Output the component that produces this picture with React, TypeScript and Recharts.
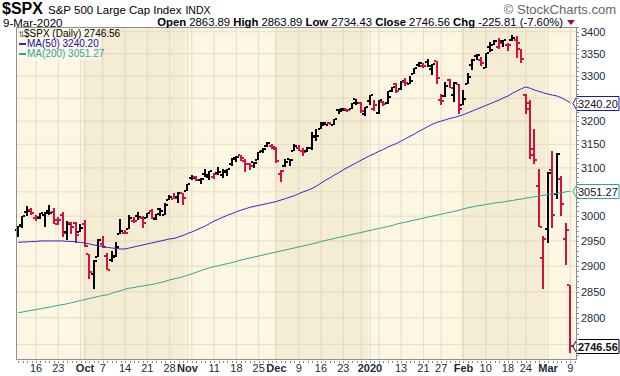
import React from "react";
import {
  ComposedChart,
  Bar,
  Line,
  XAxis,
  YAxis,
  CartesianGrid,
  ReferenceArea,
  ReferenceDot,
} from "recharts";

const FONT = "Arial, 'Liberation Sans', sans-serif";

const dates = [
  "2019-09-10", "2019-09-11", "2019-09-12", "2019-09-13", "2019-09-16", "2019-09-17", "2019-09-18", "2019-09-19", "2019-09-20",
  "2019-09-23", "2019-09-24", "2019-09-25", "2019-09-26", "2019-09-27", "2019-09-30",
  "2019-10-01", "2019-10-02", "2019-10-03", "2019-10-04", "2019-10-07", "2019-10-08", "2019-10-09", "2019-10-10", "2019-10-11",
  "2019-10-14", "2019-10-15", "2019-10-16", "2019-10-17", "2019-10-18", "2019-10-21", "2019-10-22", "2019-10-23", "2019-10-24",
  "2019-10-25", "2019-10-28", "2019-10-29", "2019-10-30", "2019-10-31",
  "2019-11-01", "2019-11-04", "2019-11-05", "2019-11-06", "2019-11-07", "2019-11-08", "2019-11-11", "2019-11-12", "2019-11-13",
  "2019-11-14", "2019-11-15", "2019-11-18", "2019-11-19", "2019-11-20", "2019-11-21", "2019-11-22", "2019-11-25", "2019-11-26",
  "2019-11-27", "2019-11-29",
  "2019-12-02", "2019-12-03", "2019-12-04", "2019-12-05", "2019-12-06", "2019-12-09", "2019-12-10", "2019-12-11", "2019-12-12",
  "2019-12-13", "2019-12-16", "2019-12-17", "2019-12-18", "2019-12-19", "2019-12-20", "2019-12-23", "2019-12-24", "2019-12-26",
  "2019-12-27", "2019-12-30", "2019-12-31",
  "2020-01-02", "2020-01-03", "2020-01-06", "2020-01-07", "2020-01-08", "2020-01-09", "2020-01-10", "2020-01-13", "2020-01-14",
  "2020-01-15", "2020-01-16", "2020-01-17", "2020-01-21", "2020-01-22", "2020-01-23", "2020-01-24", "2020-01-27", "2020-01-28",
  "2020-01-29", "2020-01-30", "2020-01-31",
  "2020-02-03", "2020-02-04", "2020-02-05", "2020-02-06", "2020-02-07", "2020-02-10", "2020-02-11", "2020-02-12", "2020-02-13",
  "2020-02-14", "2020-02-18", "2020-02-19", "2020-02-20", "2020-02-21", "2020-02-24", "2020-02-25", "2020-02-26", "2020-02-27",
  "2020-02-28",
  "2020-03-02", "2020-03-03", "2020-03-04", "2020-03-05", "2020-03-06", "2020-03-09",
];

const opens = [
  2971.01, 2981.41, 3009.08, 3012.21, 2996.41, 2995.67, 3001.5, 3010.36, 3008.42, 2983.5, 3002.43, 2968.35, 2985.73, 2985.47, 2967.07,
  2983.69, 2924.78, 2885.38, 2918.56, 2944.23, 2920.4, 2911.1, 2918.55, 2963.07, 2965.81, 2973.61, 2989.68, 3000.77, 2996.84, 2996.48,
  3010.73, 2994.01, 3014.78, 3003.32, 3032.12, 3035.39, 3039.74, 3046.9,
  3050.72, 3078.96, 3080.8, 3075.1, 3087.02, 3081.25, 3080.33, 3089.28, 3084.18, 3090.75, 3107.92, 3117.91, 3127.45, 3114.66, 3108.49,
  3111.41, 3117.44, 3134.85, 3145.49, 3147.18,
  3143.85, 3087.41, 3103.5, 3119.21, 3134.62, 3141.86, 3135.36, 3135.75, 3141.23, 3166.65, 3183.63, 3195.4, 3195.21, 3192.32, 3223.33,
  3226.05, 3225.45, 3227.2, 3247.23, 3240.09, 3215.18,
  3244.67, 3226.36, 3217.55, 3241.86, 3238.59, 3266.03, 3281.81, 3271.13, 3285.35, 3282.27, 3302.97, 3323.66, 3321.03, 3330.02, 3315.77,
  3333.1, 3247.16, 3255.35, 3289.46, 3256.45, 3282.33,
  3235.66, 3280.61, 3324.91, 3344.92, 3335.54, 3318.28, 3365.87, 3370.5, 3365.9, 3378.08, 3369.04, 3380.39, 3380.45, 3360.5, 3257.61,
  3238.94, 3139.9, 3062.54, 2916.9,
  2974.28, 3096.46, 3045.75, 3075.7, 2954.2, 2863.89,
];

const highs = [
  2979.39, 3000.93, 3020.74, 3017.33, 3002.19, 3006.21, 3007.83, 3021.99, 3016.37, 2999.15, 3007.98, 2989.82, 2987.28, 2987.31, 2983.85,
  2992.53, 2924.78, 2911.13, 2953.74, 2959.75, 2925.47, 2929.32, 2948.46, 2993.28, 2972.84, 3003.28, 2997.54, 3008.29, 3000.0, 3007.33,
  3014.57, 3004.78, 3016.07, 3027.39, 3044.08, 3047.87, 3050.1, 3046.9,
  3066.95, 3085.2, 3083.95, 3078.34, 3097.77, 3093.09, 3088.33, 3102.61, 3098.06, 3098.2, 3120.46, 3124.17, 3127.64, 3118.97, 3110.11,
  3112.87, 3133.83, 3142.69, 3154.26, 3150.3,
  3144.31, 3094.97, 3119.38, 3119.45, 3150.6, 3148.87, 3142.12, 3143.98, 3176.28, 3182.68, 3197.71, 3198.22, 3198.48, 3205.48, 3225.65,
  3227.78, 3226.43, 3240.08, 3247.93, 3240.92, 3231.72,
  3258.14, 3246.15, 3246.84, 3244.91, 3267.07, 3275.58, 3282.99, 3288.13, 3294.25, 3298.66, 3317.11, 3329.88, 3329.79, 3337.77, 3326.88,
  3333.18, 3258.85, 3285.78, 3293.47, 3285.91, 3282.33,
  3268.44, 3306.92, 3337.58, 3347.96, 3341.42, 3352.26, 3375.63, 3381.47, 3385.09, 3380.69, 3375.01, 3393.52, 3389.15, 3360.76, 3259.81,
  3246.99, 3182.51, 3097.07, 2959.72,
  3090.96, 3136.72, 3130.97, 3083.04, 2985.93, 2863.89,
];

const lows = [
  2957.01, 2975.31, 3000.92, 3002.9, 2990.67, 2993.73, 2978.57, 3003.16, 2984.68, 2982.23, 2957.73, 2952.86, 2963.71, 2945.53, 2967.07,
  2938.7, 2874.93, 2855.94, 2918.56, 2935.68, 2892.66, 2907.41, 2917.12, 2963.07, 2962.94, 2973.61, 2985.2, 2991.79, 2976.31, 2995.35,
  2995.04, 2991.21, 3000.42, 3001.94, 3032.12, 3034.81, 3025.96, 3023.19,
  3050.72, 3074.87, 3072.15, 3065.89, 3080.23, 3073.58, 3075.82, 3084.73, 3078.8, 3083.26, 3104.6, 3112.06, 3113.47, 3091.41, 3094.55,
  3099.26, 3117.44, 3131.0, 3143.41, 3139.34,
  3110.78, 3070.33, 3102.53, 3103.76, 3134.62, 3135.46, 3126.09, 3133.21, 3138.47, 3156.51, 3183.63, 3191.03, 3191.14, 3192.32, 3216.03,
  3222.3, 3220.51, 3227.2, 3234.37, 3216.57, 3212.03,
  3235.53, 3222.34, 3214.64, 3232.43, 3236.67, 3263.67, 3260.86, 3268.43, 3277.19, 3280.69, 3302.82, 3318.86, 3316.61, 3320.04, 3301.87,
  3281.53, 3234.5, 3253.22, 3271.89, 3242.8, 3214.68,
  3235.66, 3280.61, 3313.75, 3334.39, 3322.12, 3317.77, 3352.72, 3369.72, 3360.52, 3366.15, 3355.61, 3378.83, 3341.02, 3328.45, 3214.65,
  3118.77, 3108.99, 2977.39, 2855.84,
  2945.19, 2976.63, 3034.38, 2999.83, 2901.54, 2734.43,
];

const closes = [
  2979.39, 3000.93, 3009.57, 3007.39, 2997.96, 3005.7, 3006.73, 3006.79, 2992.07, 2991.78, 2966.6, 2984.87, 2977.62, 2961.79, 2976.74,
  2940.25, 2887.61, 2910.63, 2952.01, 2938.79, 2893.06, 2919.4, 2938.13, 2970.27, 2966.15, 2995.68, 2989.69, 2997.95, 2986.2, 3006.72,
  2995.99, 3004.52, 3010.29, 3022.55, 3039.42, 3036.89, 3046.77, 3037.56,
  3066.91, 3078.27, 3074.62, 3076.78, 3085.18, 3093.08, 3087.01, 3091.84, 3094.04, 3096.63, 3120.46, 3122.03, 3120.18, 3108.46, 3103.54,
  3110.29, 3133.64, 3140.52, 3153.63, 3140.98,
  3113.87, 3093.2, 3112.76, 3117.43, 3145.91, 3135.96, 3132.52, 3141.63, 3168.57, 3168.8, 3191.45, 3192.52, 3191.14, 3205.37, 3221.22,
  3224.01, 3223.38, 3239.91, 3240.02, 3221.29, 3230.78,
  3257.85, 3234.85, 3246.28, 3237.18, 3253.05, 3274.7, 3265.35, 3288.13, 3283.15, 3289.29, 3316.81, 3329.62, 3320.79, 3321.75, 3325.54,
  3295.47, 3243.63, 3276.24, 3273.4, 3283.66, 3225.52,
  3248.92, 3297.59, 3334.69, 3345.78, 3327.71, 3352.09, 3357.75, 3379.45, 3373.94, 3380.16, 3370.29, 3386.15, 3373.23, 3337.75, 3225.89,
  3128.21, 3116.39, 2978.76, 2954.22,
  3090.23, 3003.37, 3130.12, 3023.94, 2972.37, 2746.56,
];

// close of the session before the first bar (decides the colour of bar 1)
const prevClose = 2978.43;

const ma50 = [
  2947, 2948, 2948, 2949, 2949, 2950, 2950, 2950, 2950, 2950,
  2950, 2949, 2949, 2948, 2947, 2946, 2944, 2942, 2940, 2939,
  2937, 2936, 2935, 2934, 2934, 2936, 2938, 2940, 2942, 2944,
  2946, 2948, 2950, 2952, 2954, 2955, 2958, 2961, 2965, 2968,
  2972, 2976, 2980, 2985, 2990, 2994, 2998, 3002, 3005, 3009,
  3012, 3015, 3018, 3020, 3022, 3024, 3026, 3028, 3030, 3033,
  3036, 3039, 3042, 3046, 3050, 3053, 3057, 3062, 3068, 3074,
  3079, 3085, 3090, 3096, 3101, 3106, 3111, 3116, 3121, 3126,
  3130, 3135, 3139, 3144, 3148, 3152, 3157, 3162, 3167, 3172,
  3178, 3183, 3188, 3193, 3197, 3200, 3203, 3206, 3208, 3211,
  3214, 3218, 3222, 3226, 3230, 3234, 3238, 3242, 3246, 3251,
  3255, 3261, 3266, 3271, 3275, 3272, 3268, 3265, 3262, 3259,
  3257, 3255, 3251, 3246, 3240.2,
];

const ma200 = [
  2810, 2811, 2813, 2814, 2816, 2817, 2819, 2820, 2822, 2824,
  2825, 2827, 2829, 2831, 2833, 2835, 2837, 2839, 2841, 2843,
  2844, 2847, 2850, 2852, 2855, 2857, 2858, 2860, 2861, 2863,
  2864, 2866, 2868, 2870, 2873, 2875, 2877, 2879, 2882, 2885,
  2888, 2891, 2894, 2897, 2899, 2901, 2903, 2905, 2907, 2909,
  2912, 2914, 2916, 2918, 2920, 2922, 2924, 2926, 2928, 2930,
  2932, 2934, 2936, 2938, 2940, 2942, 2944, 2946, 2949, 2951,
  2953, 2955, 2957, 2959, 2961, 2963, 2965, 2967, 2969, 2971,
  2973, 2975, 2977, 2979, 2981, 2984, 2986, 2988, 2990, 2992,
  2994, 2996, 2998, 3000, 3002, 3004, 3006, 3008, 3010, 3012,
  3015, 3017, 3019, 3021, 3022, 3024, 3025, 3027, 3028, 3029,
  3031, 3032, 3034, 3035, 3037, 3038, 3040, 3041, 3043, 3044,
  3046, 3047, 3048, 3050, 3051.27,
];

// labelled price levels (grid lines) and the minor tick step on the price axis
const yMajor = [2750, 2800, 2850, 2900, 2950, 3000, 3050, 3100, 3150, 3200, 3250, 3300, 3350, 3400];
const yMinor = [
  2730, 2740, 2750, 2760, 2770, 2780, 2790, 2800, 2810, 2820, 2830, 2840, 2850, 2860, 2870, 2880, 2890, 2900, 2910, 2920,
  2930, 2940, 2950, 2960, 2970, 2980, 2990, 3000, 3010, 3020, 3030, 3040, 3050, 3060, 3070, 3080, 3090, 3100, 3110, 3120,
  3130, 3140, 3150, 3160, 3170, 3180, 3190, 3200, 3210, 3220, 3230, 3240, 3250, 3260, 3270, 3280, 3290, 3300, 3310, 3320,
  3330, 3340, 3350, 3360, 3370, 3380, 3390, 3400, 3410,
];
const yHidden = [2750, 3050, 3250];

const labelDates = [
  "2019-09-16", "2019-09-23", "2019-10-01", "2019-10-07", "2019-10-14", "2019-10-21", "2019-10-28", "2019-11-01", "2019-11-11",
  "2019-11-18", "2019-11-25", "2019-12-02", "2019-12-09", "2019-12-16", "2019-12-23", "2020-01-02", "2020-01-13", "2020-01-21",
  "2020-01-27", "2020-02-03", "2020-02-10", "2020-02-18", "2020-02-24", "2020-03-02", "2020-03-09",
];
const labelTexts = [
  "16", "23", "Oct", "7", "14", "21", "28", "Nov", "11", "18", "25", "Dec", "9", "16", "23", "2020", "13", "21", "27", "Feb", "10",
  "18", "24", "Mar", "9",
];
// week starts that carry a grid line but no label
const extraGridDates = ["2019-09-30", "2019-11-04", "2019-12-30", "2020-01-06"];

const shadedMonths = [
  ["2019-10-01", "2019-10-31"],
  ["2019-12-02", "2019-12-31"],
  ["2020-02-03", "2020-02-28"],
];

const padSlot = "2020-03-10";

const RED = "#d3123c";
const BLUE = "#2a2ac8";
const TEAL = "#2fa595";

const data = dates.map((date, i) => ({
  date,
  range: [lows[i], highs[i]],
  open: opens[i],
  high: highs[i],
  low: lows[i],
  close: closes[i],
  up: closes[i] >= (i === 0 ? prevClose : closes[i - 1]),
  ma50: ma50[i],
  ma200: ma200[i],
}));
const chartData: any[] = [...data, { date: padSlot }];
const allTicks = chartData.map((d) => d.date);
const gridDates = [...labelDates, ...extraGridDates];

const OhlcBar = (props: any) => {
  const { x, y, width, height, payload } = props;
  if (!payload || payload.high == null) return null;
  const cx = Math.round(x + width / 2);
  const lh = Math.log(payload.high);
  const ll = Math.log(payload.low);
  const span = lh - ll || 1;
  const oy = Math.round(y + (height * (lh - Math.log(payload.open))) / span);
  const cy = Math.round(y + (height * (lh - Math.log(payload.close))) / span);
  const top = Math.round(y);
  const h = Math.max(Math.round(y + height) - top, 2);
  const c = payload.up ? "#000" : RED;
  return (
    <g>
      <rect x={cx - 1} y={top} width={2} height={h} fill={c} />
      <rect x={cx - 3} y={oy - 1} width={2} height={2} fill={c} />
      <rect x={cx + 1} y={cy - 1} width={2} height={2} fill={c} />
    </g>
  );
};

const XTick = (props: any) => {
  const { x, y, payload } = props;
  const k = labelDates.indexOf(payload.value);
  const text = k >= 0 ? labelTexts[k] : null;
  return (
    <g>
      <rect x={Math.round(x)} y={y - 1} width={1} height={2} fill="#8a8a8a" />
      {text && (
        <text
          x={x}
          y={y + 10}
          textAnchor="middle"
          fontFamily={FONT}
          fontSize={11}
          fontWeight={text.length > 2 ? 700 : 400}
          fill="#1d2b38"
        >
          {text}
        </text>
      )}
    </g>
  );
};

const YTick = (props: any) => {
  const { x, y, payload } = props;
  const v = payload.value;
  const major = yMajor.includes(v);
  return (
    <g>
      <rect x={x - 3} y={Math.round(y)} width={2} height={1} fill="#8a9096" />
      {major && !yHidden.includes(v) && (
        <text x={x + 1} y={y} dy={4} textAnchor="start" fontFamily={FONT} fontSize={11} fill="#1d2b38">
          {v}
        </text>
      )}
    </g>
  );
};

const PriceTag = ({ cx, cy, color, text, bold }: any) => {
  const tip = Math.round(cx) + 3;
  const x0 = tip + 4;
  const x1 = 619;
  const yc = Math.round(cy) + 0.5;
  const t = yc - 7;
  const b = yc + 7;
  return (
    <g>
      <polygon
        points={`${tip},${yc} ${x0},${t} ${x1},${t} ${x1},${b} ${x0},${b}`}
        fill="#fff"
        stroke={color}
        strokeWidth={1}
      />
      <text
        x={x0 + 1}
        y={yc + 4}
        fontFamily={FONT}
        fontSize={11}
        fontWeight={bold ? 700 : 400}
        fill="#111"
      >
        {text}
      </text>
    </g>
  );
};

const last = dates.length - 1;

export default function App() {
  return (
    <div style={{ position: "absolute", left: 0, top: 0, width: 620, height: 376, background: "#fff" }}>
      <ComposedChart
        width={620}
        height={376}
        data={chartData}
        margin={{ top: 27, right: 0, bottom: 0, left: 16 }}
      >
        <CartesianGrid fill="#fdf6e3" stroke="#e7dcc6" verticalValues={gridDates} horizontalValues={yMajor} />
        {shadedMonths.map(([a, b]) => (
          <ReferenceArea key={a} x1={a} x2={b} fill="#d9c7a0" fillOpacity={0.22} stroke="none" />
        ))}
        <XAxis
          dataKey="date"
          ticks={allTicks}
          interval={0}
          tick={<XTick />}
          tickLine={false}
          axisLine={false}
          tickSize={2}
          tickMargin={0}
          height={16}
        />
        <YAxis
          orientation="right"
          type="number"
          scale="log"
          domain={[2721, 3411]}
          allowDataOverflow
          ticks={yMinor}
          interval={0}
          width={43}
          tick={<YTick />}
          tickLine={false}
          axisLine={false}
          tickSize={3}
          tickMargin={0}
        />
        <Line dataKey="ma200" stroke={TEAL} strokeWidth={1} dot={false} isAnimationActive={false} />
        <Line dataKey="ma50" stroke={BLUE} strokeWidth={1} dot={false} isAnimationActive={false} />
        <Bar dataKey="range" barSize={2} shape={<OhlcBar />} isAnimationActive={false} />
        <ReferenceDot
          x={dates[last]}
          y={ma50[last]}
          ifOverflow="visible"
          shape={(p: any) => <PriceTag {...p} color="#1a1aa8" text={ma50[last].toFixed(2)} />}
        />
        <ReferenceDot
          x={dates[last]}
          y={ma200[last]}
          ifOverflow="visible"
          shape={(p: any) => <PriceTag {...p} color={TEAL} text={ma200[last].toFixed(2)} />}
        />
        <ReferenceDot
          x={dates[last]}
          y={closes[last]}
          ifOverflow="visible"
          shape={(p: any) => <PriceTag {...p} color="#000" text={closes[last].toFixed(2)} bold />}
        />
      </ComposedChart>

      <svg
        width={620}
        height={376}
        style={{ position: "absolute", left: 0, top: 0, pointerEvents: "none" }}
        fontFamily={FONT}
      >
        <rect x={16.5} y={27.5} width={560} height={332} fill="none" stroke="#8a9096" />
        <rect x={17} y={28} width={84} height={32} fill="#fffaee" fillOpacity={0.75} />
        <text x={2} y={13.5} fontSize={16} fontWeight={700} fill="#000">$SPX</text>
        <text x={48} y={14} fontSize={11.5} fill="#000">
          S&amp;P 500 Large Cap Index
          <tspan dx={4} fontSize={10.5}>INDX</tspan>
        </text>
        <text x={616} y={13.5} fontSize={13} fill="#666" textAnchor="end">© StockCharts.com</text>
        <text x={3} y={26.5} fontSize={11.5} fill="#000">9-Mar-2020</text>
        <text x={563} y={26} fontSize={11.3} fill="#000" textAnchor="end">
          <tspan fontWeight={700}>Open</tspan> 2863.89 <tspan fontWeight={700}>High</tspan> 2863.89{" "}
          <tspan fontWeight={700}>Low</tspan> 2734.43 <tspan fontWeight={700}>Close</tspan> 2746.56{" "}
          <tspan fontWeight={700}>Chg</tspan> -225.81 (-7.60%)
        </text>
        <polygon points="567,20 575,20 571,25" fill="#a0102c" />
        <text x={18} y={37} fontSize={10} fill="#000">
          <tspan letterSpacing={-3}>↑↓</tspan>
          <tspan dx={2}>$SPX (Daily) 2746.56</tspan>
        </text>
        <rect x={19} y={43} width={7} height={2} fill={BLUE} />
        <text x={27} y={47} fontSize={10} fill="#1010b0">MA(50) 3240.20</text>
        <rect x={19} y={53} width={7} height={2} fill={TEAL} />
        <text x={27} y={57} fontSize={10} fill={TEAL}>MA(200) 3051.27</text>
      </svg>
    </div>
  );
}
